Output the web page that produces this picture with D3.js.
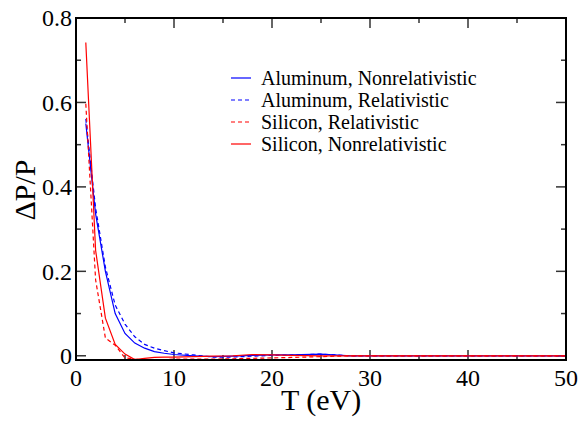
<!DOCTYPE html>
<html>
<head>
<meta charset="utf-8">
<script src="https://cdn.jsdelivr.net/npm/d3@7"></script>
<style>
  body { margin: 0; background: #fff; }
  svg { display: block; font-family: "Liberation Serif", "DejaVu Serif", serif; }
</style>
</head>
<body>
<div id="chart"></div>
<script>
// temperatures (eV)
const temps = [1, 2, 3, 4, 5, 6, 7, 8, 9, 10, 12, 14, 16, 18, 20, 22, 25, 28, 30, 35, 40, 45, 50];

// ΔP/P for each case
const alNonrel = [0.55, 0.336, 0.20, 0.10, 0.053, 0.03, 0.018, 0.01, 0.006, 0.003, 0.0, -0.002, -0.001, 0.001, 0.002, 0.002, 0.004, 0.0, 0, 0, 0, 0, 0];
const alRel = [0.561, 0.35, 0.21, 0.12, 0.075, 0.045, 0.027, 0.018, 0.012, 0.007, 0.002, -0.003, -0.003, -0.001, 0.001, 0.002, 0.004, 0.0, 0, 0, 0, 0, 0];
const siRel = [0.597, 0.18, 0.042, 0.025, -0.005, -0.008, -0.009, -0.009, -0.009, -0.008, -0.008, -0.008, -0.007, -0.006, -0.005, -0.004, -0.002, 0, 0, 0, 0, 0, 0];
const siNonrel = [0.742, 0.25, 0.089, 0.027, 0.004, -0.009, -0.006, -0.004, -0.003, -0.003, -0.002, -0.001, 0.0, 0.003, 0.002, 0.001, 0.0, 0, 0, 0, 0, 0, 0];

const seriesNames = ['Aluminum, Nonrelativistic', 'Aluminum, Relativistic', 'Silicon, Relativistic', 'Silicon, Nonrelativistic'];
const seriesValues = [alNonrel, alRel, siRel, siNonrel];
const seriesColors = ['#0000ff', '#0000ff', '#ff0000', '#ff0000'];
const seriesDash = [null, '4,3', '4,3', null];

const xTicks = [0, 10, 20, 30, 40, 50];
const xMinor = [5, 15, 25, 35, 45];
const yTicks = [0, 0.2, 0.4, 0.6, 0.8];
const yMinor = [0.1, 0.3, 0.5, 0.7];

const width = 580, height = 421;
const margin = { top: 18, right: 14, bottom: 61, left: 76 };
const w = width - margin.left - margin.right;
const h = height - margin.top - margin.bottom;

const svg = d3.select('#chart').append('svg')
  .attr('width', width)
  .attr('height', height);

const g = svg.append('g')
  .attr('transform', `translate(${margin.left},${margin.top})`);

const x = d3.scaleLinear().domain([0, 50]).range([0, w]);
const y = d3.scaleLinear().domain([-0.01, 0.8]).range([h, 0]);

// ticks on all four sides, pointing inward
const tickColor = '#333';
function ticks(vals, len, side) {
  vals.forEach(v => {
    let x1, y1, x2, y2;
    if (side === 'bottom') { x1 = x2 = x(v); y1 = h; y2 = h - len; }
    if (side === 'top') { x1 = x2 = x(v); y1 = 0; y2 = len; }
    if (side === 'left') { y1 = y2 = y(v); x1 = 0; x2 = len; }
    if (side === 'right') { y1 = y2 = y(v); x1 = w; x2 = w - len; }
    g.append('line')
      .attr('x1', x1).attr('y1', y1).attr('x2', x2).attr('y2', y2)
      .attr('stroke', tickColor).attr('stroke-width', 1.5);
  });
}
['bottom', 'top'].forEach(s => { ticks(xTicks, 10, s); ticks(xMinor, 5, s); });
['left', 'right'].forEach(s => { ticks(yTicks, 10, s); ticks(yMinor, 5, s); });

// tick labels
g.selectAll('.xlab').data(xTicks).enter().append('text')
  .attr('x', d => x(d))
  .attr('y', h + 26)
  .attr('text-anchor', 'middle')
  .attr('font-size', 24)
  .text(d => d);

g.selectAll('.ylab').data(yTicks).enter().append('text')
  .attr('x', -4)
  .attr('y', d => y(d))
  .attr('dy', '0.35em')
  .attr('text-anchor', 'end')
  .attr('font-size', 24)
  .text(d => d === 0 ? '0' : d3.format('.1f')(d));

// lines
const line = d3.line()
  .x((d, i) => x(temps[i]))
  .y(d => y(d));

seriesValues.forEach((vals, k) => {
  g.append('path')
    .datum(vals)
    .attr('fill', 'none')
    .attr('stroke', seriesColors[k])
    .attr('stroke-width', 1.2)
    .attr('stroke-dasharray', seriesDash[k])
    .attr('d', line);
});

// frame
g.append('rect')
  .attr('x', 0).attr('y', 0)
  .attr('width', w).attr('height', h)
  .attr('fill', 'none')
  .attr('stroke', '#000')
  .attr('stroke-width', 2);

// legend
const legend = svg.append('g').attr('transform', 'translate(231,78)');
seriesNames.forEach((name, k) => {
  const row = legend.append('g').attr('transform', `translate(0,${k * 22})`);
  row.append('line')
    .attr('x1', 0).attr('x2', 20).attr('y1', 0).attr('y2', 0)
    .attr('stroke', seriesColors[k])
    .attr('stroke-width', 1.2)
    .attr('stroke-dasharray', seriesDash[k]);
  row.append('text')
    .attr('x', 30)
    .attr('y', 0)
    .attr('dy', '0.33em')
    .attr('font-size', 20)
    .text(name);
});

// axis titles
svg.append('text')
  .attr('x', margin.left + w / 2)
  .attr('y', 410)
  .attr('text-anchor', 'middle')
  .attr('font-size', 30)
  .text('T (eV)');

svg.append('text')
  .attr('transform', 'translate(35,190) rotate(-90)')
  .attr('text-anchor', 'middle')
  .attr('font-size', 30)
  .text('ΔP/P');
</script>
</body>
</html>
